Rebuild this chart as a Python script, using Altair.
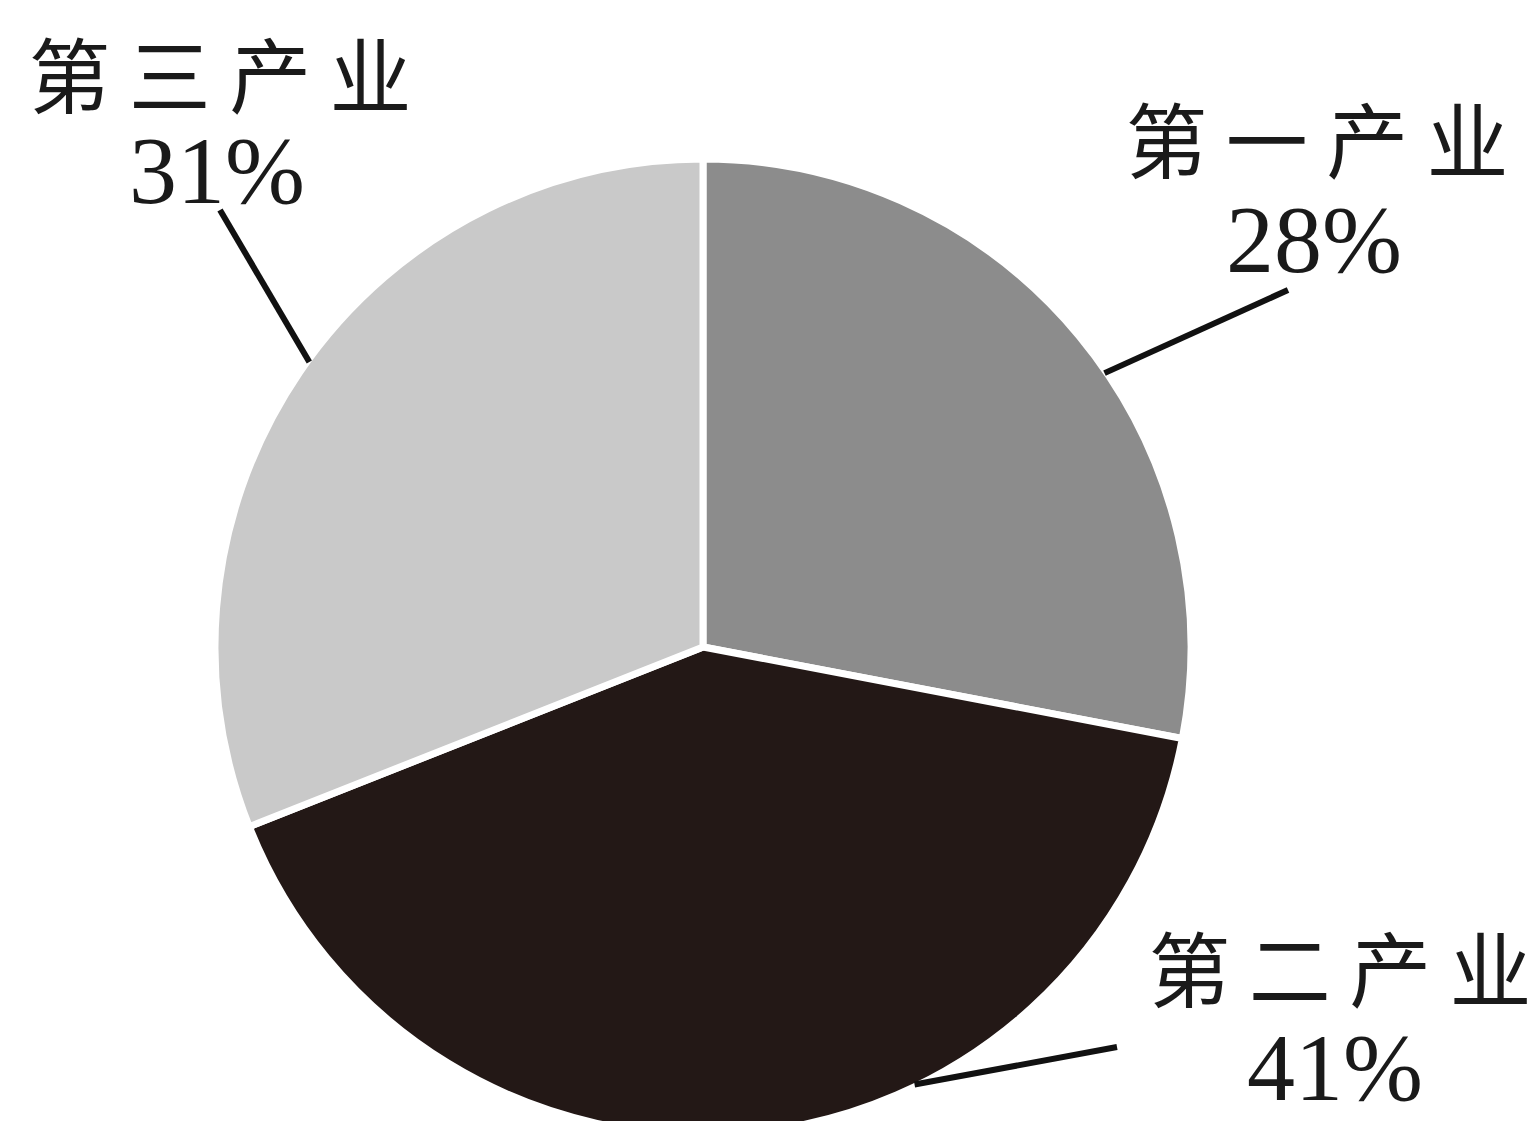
import math
import altair as alt
import pandas as pd

# ---- data ----
categories = ["第一产业", "第二产业", "第三产业"]
values = [28, 41, 31]
pct_labels = ["28%", "41%", "31%"]
colors = ["#8c8c8c", "#231816", "#c9c9c9"]

# ---- layout (image pixel space) ----
W, H = 1519, 1113
CX, CY, R = 703, 647, 488
leader_angle = [55.7, 154.2, 305.9]          # degrees clockwise from 12 o'clock
leader_end = [(1288, 290), (1117, 1047), (220, 210)]
name_pos = [(1317, 147), (1340, 976), (220, 82)]
pct_pos = [(1314, 272), (1335, 1100), (217, 203)]

pie_df = pd.DataFrame({"cat": categories, "val": values, "idx": list(range(len(values)))})

lead_rows = []
for a, (ex, ey) in zip(leader_angle, leader_end):
    t = math.radians(a)
    lead_rows.append({"x": CX + (R - 2) * math.sin(t), "y": CY - (R - 2) * math.cos(t), "x2": ex, "y2": ey})
lead_df = pd.DataFrame(lead_rows)

name_df = pd.DataFrame({"t": [" ".join(c) for c in categories],
                        "x": [p[0] for p in name_pos], "y": [p[1] for p in name_pos]})
pct_df = pd.DataFrame({"t": pct_labels,
                       "x": [p[0] for p in pct_pos], "y": [p[1] for p in pct_pos]})

xs = alt.Scale(domain=[8, 8 + W], nice=False, zero=False)
ys = alt.Scale(domain=[8, 8 + H], nice=False, zero=False, reverse=True)

pie = alt.Chart(pie_df).mark_arc(outerRadius=R, stroke="white", strokeWidth=7).encode(
    theta=alt.Theta("val:Q", stack=True),
    order=alt.Order("idx:Q", sort="ascending"),
    color=alt.Color("cat:N", scale=alt.Scale(domain=categories, range=colors), legend=None),
    x=alt.value(CX - 8),
    y=alt.value(CY - 8),
)

leaders = alt.Chart(lead_df).mark_rule(color="#111111", strokeWidth=6).encode(
    x=alt.X("x:Q", scale=xs, axis=None),
    y=alt.Y("y:Q", scale=ys, axis=None),
    x2="x2:Q",
    y2="y2:Q",
)

names = alt.Chart(name_df).mark_text(
    font="Noto Sans CJK SC", fontSize=82, color="#1a1a1a", align="center", baseline="middle"
).encode(
    x=alt.X("x:Q", scale=xs, axis=None),
    y=alt.Y("y:Q", scale=ys, axis=None),
    text="t:N",
)

pcts = alt.Chart(pct_df).mark_text(
    font="Liberation Serif", fontSize=96, color="#1a1a1a", align="center", baseline="alphabetic"
).encode(
    x=alt.X("x:Q", scale=xs, axis=None),
    y=alt.Y("y:Q", scale=ys, axis=None),
    text="t:N",
)

chart = alt.layer(pie, leaders, names, pcts).properties(
    width=W, height=H, autosize=alt.AutoSizeParams(type="none"), padding=0
).configure_view(stroke=None).resolve_scale(x="shared", y="shared")

chart.save("out.html", embed_options={"renderer": "svg", "actions": False})
